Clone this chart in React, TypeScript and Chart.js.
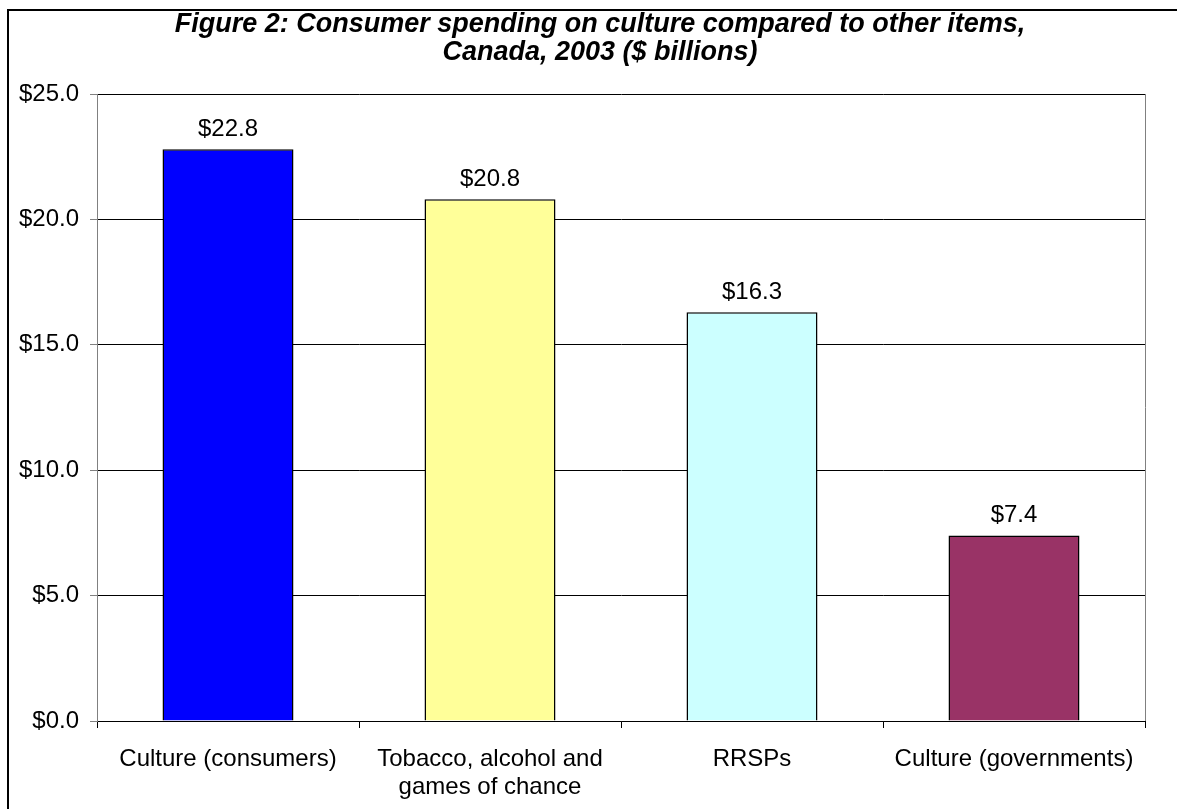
import React, { useEffect, useRef } from "react";
import { Chart, registerables } from "chart.js";

Chart.register(...registerables);

const categories: (string | string[])[] = [
  "Culture (consumers)",
  ["Tobacco, alcohol and", "games of chance"],
  "RRSPs",
  "Culture (governments)",
];
const values: number[] = [22.8, 20.8, 16.3, 7.4];
const barColors: string[] = ["#0000FF", "#FFFF99", "#CCFFFF", "#993366"];
const titleLines: string[] = [
  "Figure 2: Consumer spending on culture compared to other items,",
  "Canada, 2003 ($ billions)",
];
const yMin = 0;
const yMax = 25;
const yStep = 5;

const FONT = "Arial, 'Liberation Sans', sans-serif";

const framePlugin = {
  id: "frame",
  beforeDraw(chart: any) {
    const ctx = chart.ctx;
    ctx.save();
    ctx.fillStyle = "#fff";
    ctx.fillRect(0, 0, chart.width, chart.height);
    ctx.restore();
  },
  afterDraw(chart: any) {
    const ctx = chart.ctx;
    const a = chart.chartArea;
    ctx.save();
    // outer border
    ctx.strokeStyle = "#000";
    ctx.lineWidth = 2;
    ctx.strokeRect(8, 10, 1300, 1000);
    // right plot border
    ctx.strokeStyle = "#808080";
    ctx.lineWidth = 1;
    ctx.beginPath();
    ctx.moveTo(Math.round(a.right) + 0.5, a.top);
    ctx.lineTo(Math.round(a.right) + 0.5, a.bottom);
    ctx.stroke();
    // title
    ctx.fillStyle = "#000";
    ctx.font = `italic bold 27px ${FONT}`;
    ctx.textAlign = "center";
    ctx.textBaseline = "alphabetic";
    ctx.fillText(titleLines[0], 600, 32);
    ctx.fillText(titleLines[1], 600, 60);
    ctx.restore();
  },
};

const labelPlugin = {
  id: "barLabels",
  afterDatasetsDraw(chart: any) {
    const ctx = chart.ctx;
    const meta = chart.getDatasetMeta(0);
    ctx.save();
    ctx.fillStyle = "#000";
    ctx.font = `24px ${FONT}`;
    ctx.textAlign = "center";
    ctx.textBaseline = "alphabetic";
    meta.data.forEach((el: any, i: number) => {
      ctx.fillText("$" + values[i].toFixed(1), el.x, el.y - 13);
    });
    ctx.restore();
  },
};

export default function App() {
  const ref = useRef<HTMLCanvasElement>(null);
  useEffect(() => {
    if (!ref.current) return;
    const chart = new Chart(ref.current, {
      type: "bar",
      data: {
        labels: categories,
        datasets: [
          {
            data: values,
            backgroundColor: barColors,
            borderColor: "#000",
            borderWidth: 1.5,
            barPercentage: 0.5,
            categoryPercentage: 1,
          },
        ],
      },
      options: {
        responsive: false,
        animation: false,
        devicePixelRatio: 1,
        layout: { padding: { left: 0, top: 94, right: 32, bottom: 0 } },
        plugins: {
          legend: { display: false },
          title: { display: false },
          tooltip: { enabled: false },
        },
        scales: {
          x: {
            grid: {
              offset: true,
              drawOnChartArea: false,
              drawTicks: true,
              tickLength: 7,
              tickColor: "#000",
            },
            border: { color: "#000", width: 1 },
            ticks: {
              color: "#000",
              font: { family: FONT, size: 24, lineHeight: 1.17 },
              padding: 17,
              maxRotation: 0,
              autoSkip: false,
            },
            afterFit(scale: any) {
              scale.height = 88;
            },
          },
          y: {
            min: yMin,
            max: yMax,
            grid: {
              color: "#000",
              tickColor: "#808080",
              tickLength: 7,
              lineWidth: 1,
            },
            border: { color: "#808080", width: 1 },
            ticks: {
              stepSize: yStep,
              color: "#000",
              font: { family: FONT, size: 24 },
              padding: 11,
              callback: (v: any) => "$" + Number(v).toFixed(1),
            },
            afterFit(scale: any) {
              scale.width = 97;
            },
          },
        },
      },
      plugins: [framePlugin, labelPlugin],
    });
    return () => chart.destroy();
  }, []);
  return (
    <div style={{ position: "fixed", left: 0, top: 0, width: 1177, height: 809, background: "#fff" }}>
      <canvas ref={ref} width={1177} height={809} style={{ display: "block" }} />
    </div>
  );
}
